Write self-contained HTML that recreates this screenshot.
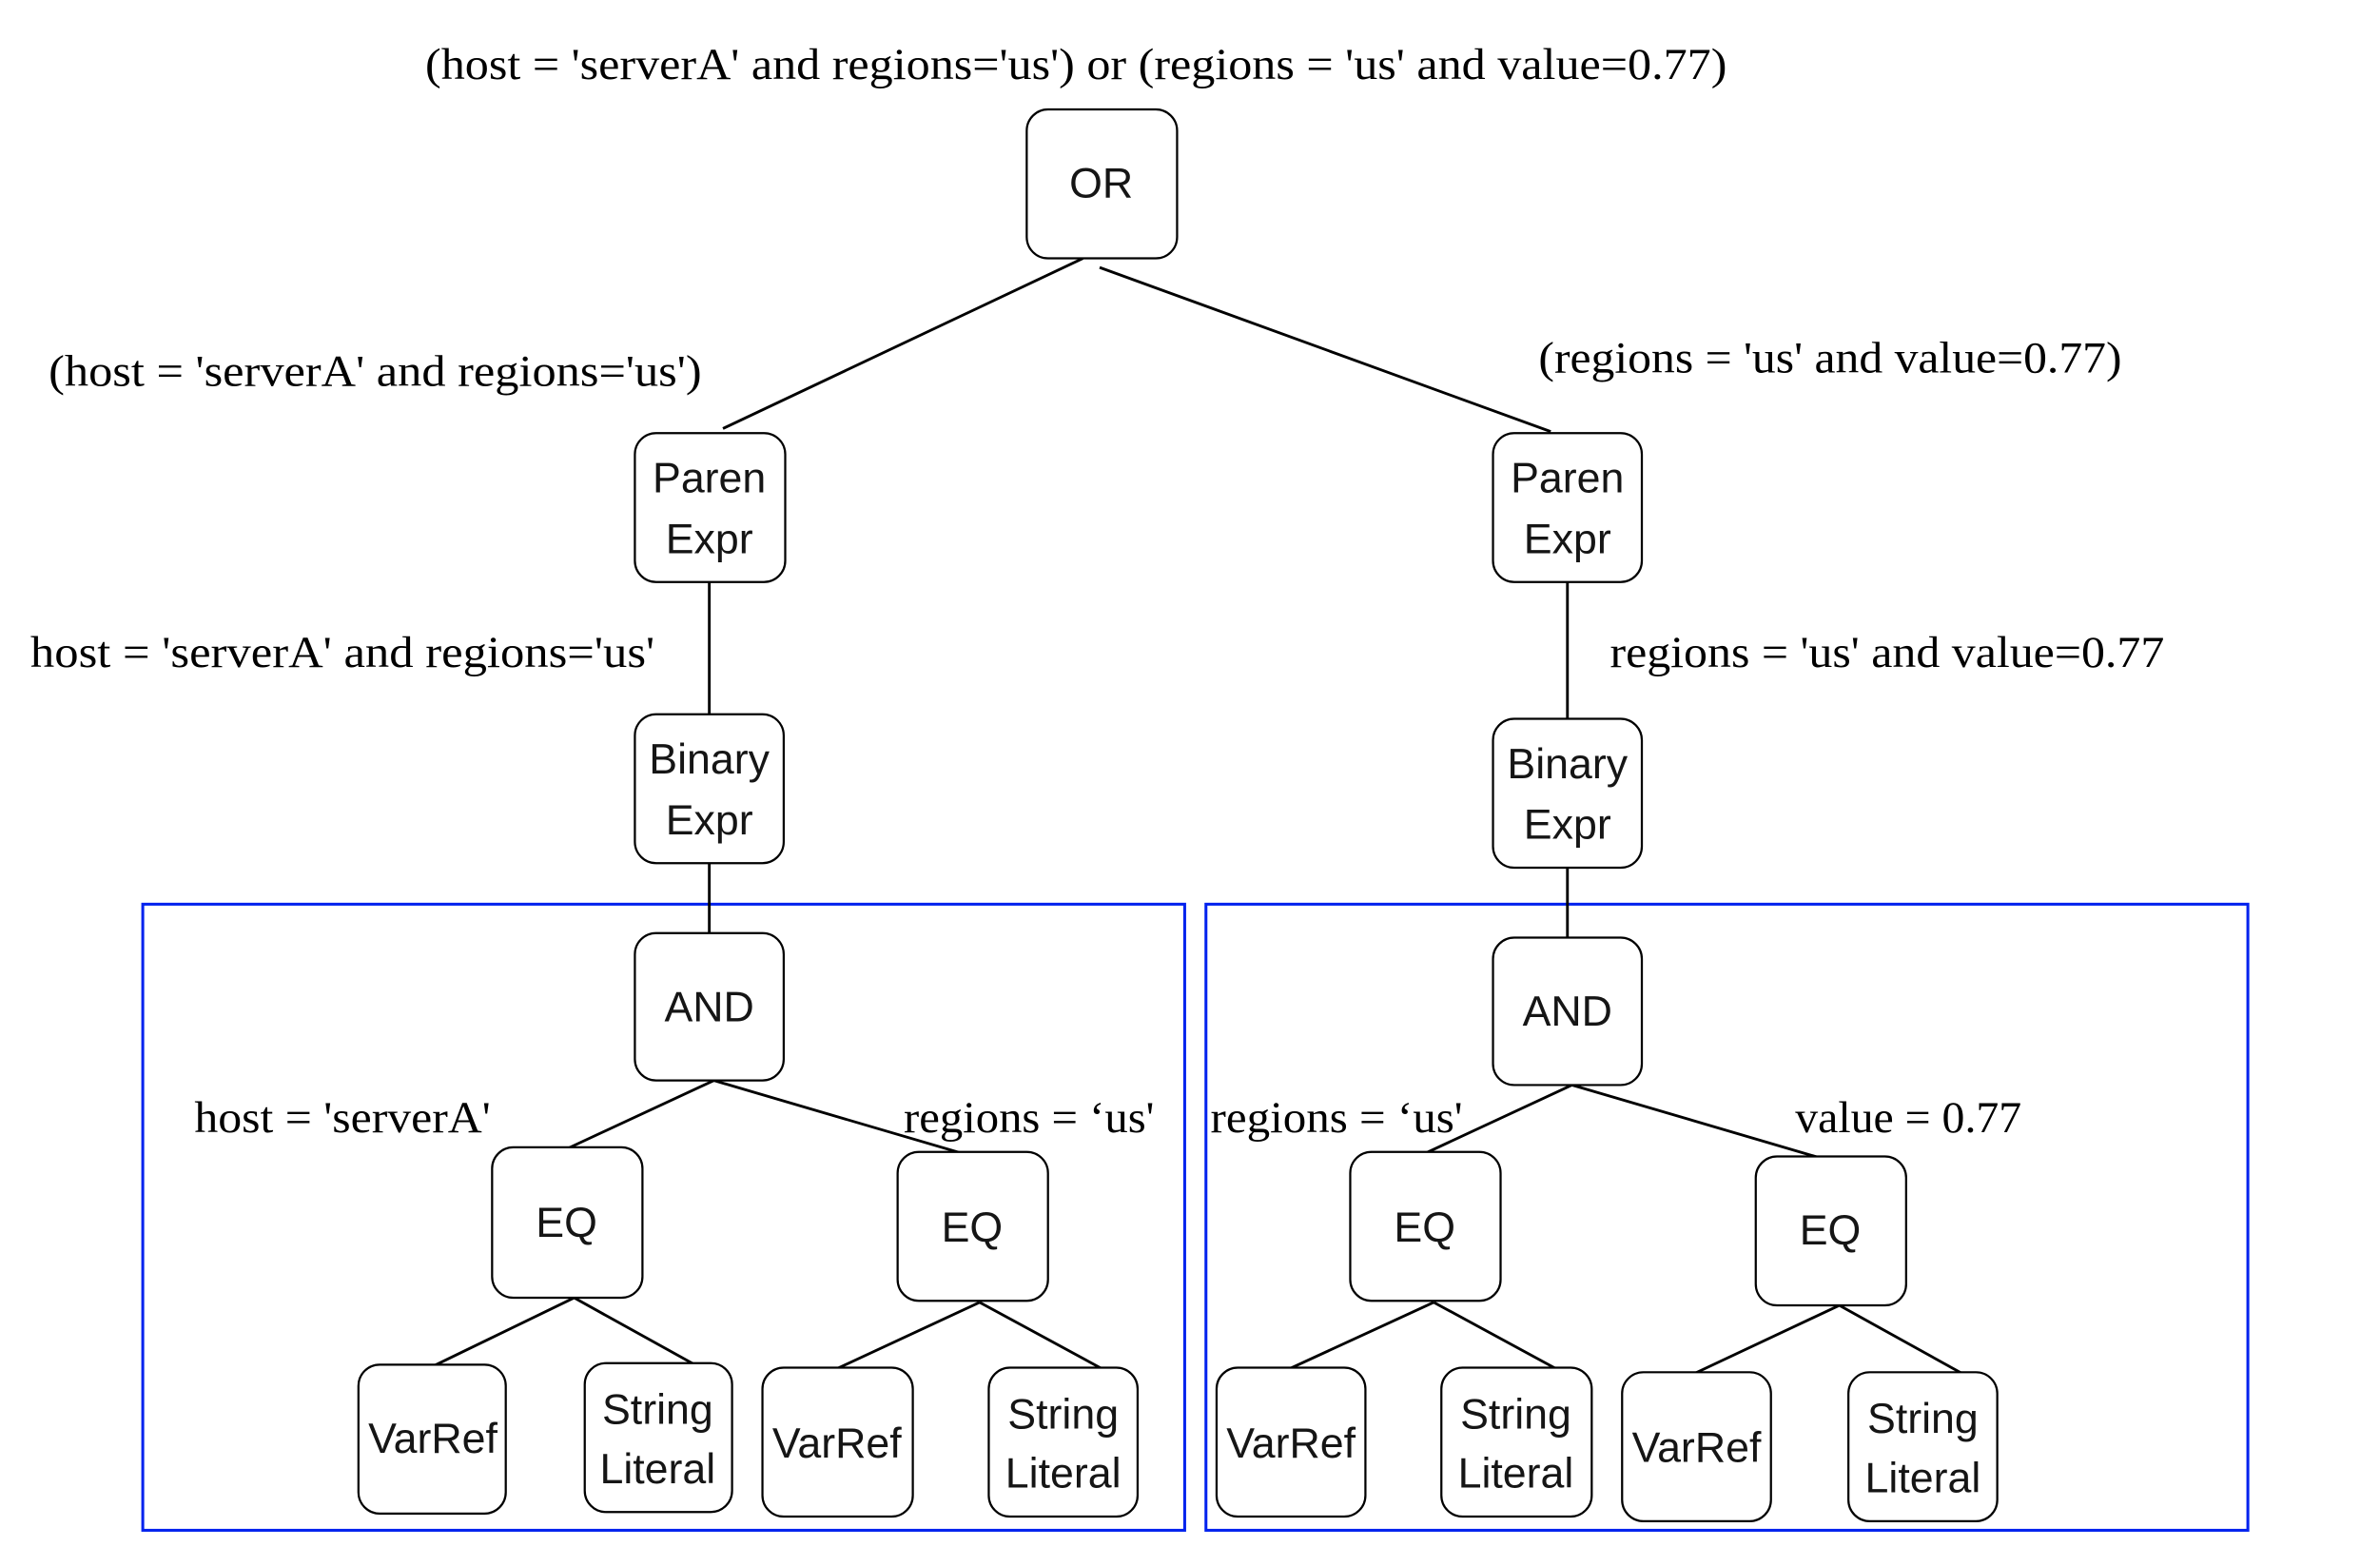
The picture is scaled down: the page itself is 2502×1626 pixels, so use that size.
<!DOCTYPE html>
<html><head><meta charset="utf-8"><style>
html,body{margin:0;padding:0;background:#fff;}
svg{display:block;}
.n{fill:#fff;stroke:#000;stroke-width:1.4;}
.l{stroke:#000;stroke-width:1.8;fill:none;}
.t{font-family:"Liberation Sans",sans-serif;font-size:28px;fill:#151515;text-anchor:middle;}
.s{font-family:"Liberation Serif",serif;font-size:29px;fill:#000;}
.b{fill:none;stroke:#0022ee;stroke-width:1.9;}
</style></head><body>
<svg width="2502" height="1626" viewBox="0 0 1567 1018" preserveAspectRatio="none" xmlns="http://www.w3.org/2000/svg">
<rect class="b" x="94" y="595" width="686" height="412"/>
<rect class="b" x="794" y="595" width="686" height="412"/>
<g class="l">
<line x1="713" y1="170" x2="476" y2="282"/>
<line x1="724" y1="176" x2="1021" y2="284"/>
<line x1="467" y1="383" x2="467" y2="470"/>
<line x1="1032" y1="383" x2="1032" y2="473"/>
<line x1="467" y1="568" x2="467" y2="614"/>
<line x1="1032" y1="571" x2="1032" y2="617"/>
<line x1="470" y1="711" x2="371" y2="757"/>
<line x1="470" y1="711" x2="637" y2="760"/>
<line x1="1035" y1="714" x2="936" y2="760"/>
<line x1="1035" y1="714" x2="1202" y2="763"/>
<line x1="378" y1="854" x2="279" y2="902"/>
<line x1="378" y1="854" x2="461" y2="900"/>
<line x1="645" y1="857" x2="546" y2="903"/>
<line x1="645" y1="857" x2="728" y2="902"/>
<line x1="944" y1="857" x2="844" y2="903"/>
<line x1="944" y1="857" x2="1027" y2="902"/>
<line x1="1211" y1="859" x2="1111" y2="906"/>
<line x1="1211" y1="859" x2="1294" y2="905"/>
</g>
<g class="n">
<rect x="676" y="72" width="99" height="98" rx="14"/>
<rect x="418" y="285" width="99" height="98" rx="14"/>
<rect x="983" y="285" width="98" height="98" rx="14"/>
<rect x="418" y="470" width="98" height="98" rx="14"/>
<rect x="983" y="473" width="98" height="98" rx="14"/>
<rect x="418" y="614" width="98" height="97" rx="14"/>
<rect x="983" y="617" width="98" height="97" rx="14"/>
<rect x="324" y="755" width="99" height="99" rx="14"/>
<rect x="591" y="758" width="99" height="98" rx="14"/>
<rect x="889" y="758" width="99" height="98" rx="14"/>
<rect x="1156" y="761" width="99" height="98" rx="14"/>
<rect x="236" y="898" width="97" height="98" rx="14"/>
<rect x="385" y="897" width="97" height="98" rx="14"/>
<rect x="502" y="900" width="99" height="98" rx="14"/>
<rect x="651" y="900" width="98" height="98" rx="14"/>
<rect x="801" y="900" width="98" height="98" rx="14"/>
<rect x="949" y="900" width="99" height="98" rx="14"/>
<rect x="1068" y="903" width="98" height="98" rx="14"/>
<rect x="1217" y="903" width="98" height="98" rx="14"/>
</g>
<g class="t">
<text x="725" y="130">OR</text>
<text x="467" y="324">Paren</text><text x="467" y="364">Expr</text>
<text x="1032" y="324">Paren</text><text x="1032" y="364">Expr</text>
<text x="467" y="509">Binary</text><text x="467" y="549">Expr</text>
<text x="1032" y="512">Binary</text><text x="1032" y="552">Expr</text>
<text x="467" y="672">AND</text>
<text x="1032" y="675">AND</text>
<text x="373" y="814">EQ</text>
<text x="640" y="817">EQ</text>
<text x="938" y="817">EQ</text>
<text x="1205" y="819">EQ</text>
<text x="285" y="956">VarRef</text>
<text x="433" y="937">String</text><text x="433" y="976">Literal</text>
<text x="551" y="959">VarRef</text>
<text x="700" y="940">String</text><text x="700" y="979">Literal</text>
<text x="850" y="959">VarRef</text>
<text x="998" y="940">String</text><text x="998" y="979">Literal</text>
<text x="1117" y="962">VarRef</text>
<text x="1266" y="943">String</text><text x="1266" y="982">Literal</text>
</g>
<g class="s">
<text x="280" y="52" textLength="857" lengthAdjust="spacingAndGlyphs">(host = 'serverA' and regions='us') or (regions = 'us' and value=0.77)</text>
<text x="32" y="254" textLength="430" lengthAdjust="spacingAndGlyphs">(host = 'serverA' and regions='us')</text>
<text x="1013" y="245" textLength="384" lengthAdjust="spacingAndGlyphs">(regions = 'us' and value=0.77)</text>
<text x="20" y="439" textLength="411" lengthAdjust="spacingAndGlyphs">host = 'serverA' and regions='us'</text>
<text x="1060" y="439" textLength="365" lengthAdjust="spacingAndGlyphs">regions = 'us' and value=0.77</text>
<text x="128" y="745" textLength="195" lengthAdjust="spacingAndGlyphs">host = 'serverA'</text>
<text x="595" y="745" textLength="165" lengthAdjust="spacingAndGlyphs">regions = ‘us'</text>
<text x="797" y="745" textLength="166" lengthAdjust="spacingAndGlyphs">regions = ‘us'</text>
<text x="1182" y="745" textLength="149" lengthAdjust="spacingAndGlyphs">value = 0.77</text>
</g>
</svg>
</body></html>
